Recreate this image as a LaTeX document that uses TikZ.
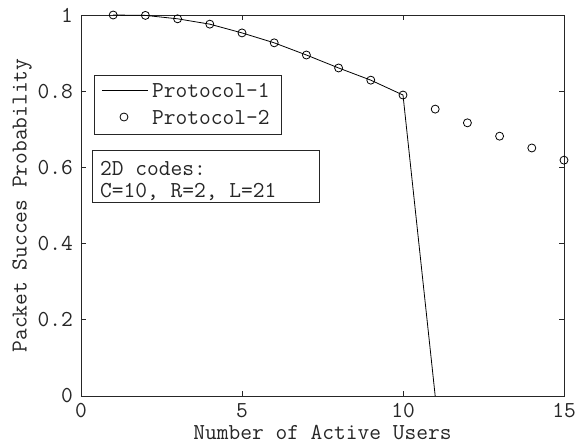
\documentclass[tikz,border=0pt]{standalone}
\usepackage{fontspec}
\usetikzlibrary{positioning}

\tikzset{
  datapt/.style={circle,draw=black,fill=white,inner sep=0pt,minimum size=8pt,line width=0.8pt},
  ticklab/.style={inner sep=0pt,text=black!85},
  framebox/.style={draw=black!85,line width=0.8pt}
}

\begin{document}
\begin{tikzpicture}[x=32.2pt,y=381pt,font=\fontsize{22.8}{26}\selectfont\ttfamily]
    \useasboundingbox (-2.5155,-0.1286) rectangle (15.528,1.0394);
    % axes frame and ticks
    \draw[framebox] (0,0) rectangle (15,1);
    \foreach \x in {0,5,10,15} {
        \draw[framebox] (\x,0) -- ++(0,5pt);
        \draw[framebox] (\x,1) -- ++(0,-5pt);
        \node[ticklab,anchor=base] (xt\x) at (\x,-0.0551) {\x};
    }
    \foreach \y/\lab [count=\i] in {0/0,0.2/0.2,0.4/0.4,0.6/0.6,0.8/0.8,1/1} {
        \draw[framebox] (0,\y) -- ++(5pt,0);
        \draw[framebox] (15,\y) -- ++(-5pt,0);
        \node[ticklab,anchor=east] (yt\i) at ([xshift=-8pt]0,\y) {\lab};
    }
    \node[ticklab] (xlab) at (7.5,-0.0945) {Number of Active Users};
    \node[ticklab,rotate=90] (ylab) at (-1.832,0.5) {Packet Succes Probability};

    % Protocol-1
    \coordinate (drop) at (11,0);
    \foreach \x/\y in {1/1.0,2/0.999,3/0.99,4/0.976,5/0.953,6/0.927,7/0.895,8/0.861,9/0.829,10/0.79}
        \coordinate (c\x) at (\x,\y);
    \draw[line width=0.8pt] (c1) -- (c2) -- (c3) -- (c4) -- (c5) -- (c6) -- (c7) -- (c8) -- (c9) -- (c10) -- (drop);

    % Protocol-2
    \foreach \x/\y in {1/1.0,2/0.999,3/0.99,4/0.976,5/0.953,6/0.927,7/0.895,8/0.861,9/0.829,10/0.79,11/0.753,12/0.717,13/0.682,14/0.651,15/0.619}
        \node[datapt,fill=none] (p\x) at (\x,\y) {};

    % legend
    \draw[framebox,fill=white] (0.4037,0.8425) rectangle (6.211,0.6877);
    \coordinate (la) at (0.652,0.8031);
    \coordinate (lb) at (2.081,0.8031);
    \draw[line width=0.8pt] (la) -- (lb);
    \node[datapt] (lc) at (1.335,0.7323) {};
    \node[ticklab,anchor=west] (l1) at (2.205,0.8031) {Protocol-1};
    \node[ticklab,anchor=west] (l2) at (2.205,0.7323) {Protocol-2};

    % code parameters
    \draw[framebox,fill=white] (0.3416,0.6457) rectangle (7.391,0.5092);
    \node[ticklab,anchor=west] (t1) at (0.59,0.5984) {2D codes:};
    \node[ticklab,anchor=west] (t2) at (0.59,0.5354) {C=10, R=2, L=21};
\end{tikzpicture}
\end{document}
